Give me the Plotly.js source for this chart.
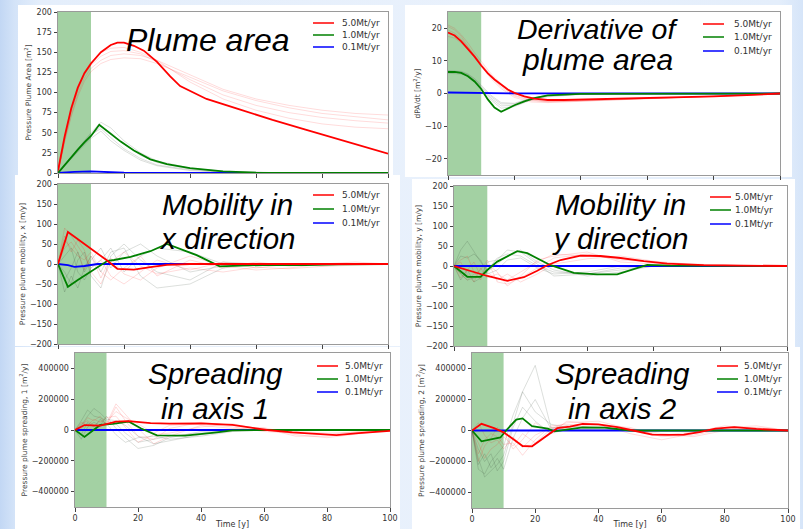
<!DOCTYPE html>
<html>
<head>
<meta charset="utf-8">
<script src="https://cdn.plot.ly/plotly-3.0.1.min.js"></script>
<style>
  html, body { margin: 0; padding: 0; }
  body {
    width: 803px; height: 529px; overflow: hidden;
    background: linear-gradient(90deg, #c2d7f4 0px, #d3e3f8 14px, #e4eefb 40px, #e9f1fc 60%, #e4eefb 97%, #d6e5f9 100%);
  }
  #chart { width: 803px; height: 529px; }
</style>
</head>
<body>
<div id="chart"></div>
<script>
// ---------------- data ----------------
const rateLabels = ['5.0Mt/yr', '1.0Mt/yr', '0.1Mt/yr'];
const injectionEnd = 10;           // end of injection period [y]
const timeTicks = [0, 20, 40, 60, 80, 100];

// common time grid of the ensemble realisations
const tEns = [0, 2, 4, 6, 8, 10, 13, 16, 20, 25, 30, 40, 50, 60, 70, 80, 90, 100];

// --- pressure plume area [m2]
const areaTicks = [0, 25, 50, 75, 100, 125, 150, 175, 200];
const areaRedT = [0, 2, 4, 6, 8, 10, 13, 16, 18, 20, 23, 26, 30, 34, 37, 45, 55, 65, 75, 85, 95, 100];
const areaRed = [3, 45, 80, 106, 124, 136, 150, 159, 162, 162, 158, 152, 138, 120, 108, 92, 79, 66, 54, 42, 30, 24];
const areaGreenT = [0, 2, 4, 6, 8, 10, 12.5, 15, 19, 23, 28, 33, 40, 50, 60, 100];
const areaGreen = [0, 10, 20, 29, 38, 46, 60, 52, 39, 28, 17, 11, 6, 2, 0.5, 0];
const areaBlueT = [0, 5, 10, 15, 20, 100];
const areaBlue = [0, 1.5, 2, 1, 0.3, 0];
const areaRedEns1 = [0, 40, 72, 98, 118, 130, 140, 146, 148, 146, 140, 122, 104, 92, 84, 78, 74, 72];
const areaRedEns2 = [0, 42, 76, 102, 122, 134, 145, 151, 152, 148, 138, 116, 97, 84, 75, 69, 65, 62];
const areaRedEns3 = [0, 38, 70, 95, 114, 126, 136, 141, 143, 142, 136, 119, 102, 90, 81, 74, 70, 66];
const areaRedEns4 = [0, 44, 78, 104, 125, 138, 150, 155, 156, 150, 140, 113, 92, 78, 68, 61, 57, 55];
const areaGreyEns1 = [0, 9, 19, 28, 37, 46, 58, 50, 36, 22, 13, 5, 2, 1, 0, 0, 0, 0];
const areaGreyEns2 = [0, 10, 21, 31, 41, 50, 63, 56, 40, 25, 15, 6, 2, 1, 0, 0, 0, 0];
const areaGreyEns3 = [0, 9, 18, 27, 35, 43, 52, 40, 28, 16, 9, 3, 1, 0, 0, 0, 0, 0];
const areaGreyEns4 = [0, 10, 20, 30, 39, 48, 55, 44, 30, 18, 10, 4, 1, 0, 0, 0, 0, 0];

// --- derivative of plume area [m2/y]
const dAreaTicks = [-20, -10, 0, 10, 20];
const dAreaRedT = [0, 2, 4, 6, 8, 10, 12, 14, 16, 18, 20, 23, 26, 30, 35, 40, 50, 60, 70, 80, 90, 100];
const dAreaRed = [18.7, 17.8, 16, 13.8, 11.3, 8.6, 6.2, 4.3, 2.6, 1.2, 0.2, -0.9, -1.6, -2, -2, -1.9, -1.7, -1.5, -1.2, -0.9, -0.5, 0];
const dAreaGreenT = [0, 2, 4, 6, 8, 10, 12, 14, 16, 18, 20, 23, 26, 30, 35, 40, 100];
const dAreaGreen = [6.6, 6.6, 6.3, 5.3, 3.7, 1.4, -1.8, -4.3, -5.6, -4.6, -3.6, -2.4, -1.4, -0.6, -0.3, -0.1, 0];
const dAreaBlueT = [0, 10, 20, 100];
const dAreaBlue = [0.3, 0.2, 0.05, 0];
const dAreaRedEns1 = [20.5, 19.5, 17.5, 14.5, 11.5, 8.5, 4.5, 1.5, -1.2, -2.6, -2.8, -2.4, -2, -1.7, -1.4, -1, -0.6, 0];
const dAreaRedEns2 = [19.5, 18.5, 16.8, 14.2, 11.8, 9.2, 5.5, 2.5, -0.5, -2, -2.5, -2.2, -1.9, -1.6, -1.3, -0.9, -0.5, 0];
const dAreaRedEns3 = [17.5, 17, 15.5, 13.5, 11, 8.5, 5, 2, -0.8, -2.2, -2.6, -2.3, -2, -1.6, -1.3, -0.9, -0.5, 0];
const dAreaRedEns4 = [21, 20, 18, 15.5, 12.5, 9.8, 6, 3, 0, -1.8, -2.4, -2.2, -1.8, -1.5, -1.2, -0.9, -0.5, 0];
const dAreaGreyEns1 = [6.8, 6.8, 6.5, 5.8, 4.2, 2, -1.5, -3.8, -3.6, -1.8, -0.8, -0.2, 0, 0, 0, 0, 0, 0];
const dAreaGreyEns2 = [6.2, 6.2, 6, 5.4, 4, 2.2, -1, -3.2, -3.2, -1.5, -0.6, -0.2, 0, 0, 0, 0, 0, 0];
const dAreaGreyEns3 = [7, 7, 6.8, 6, 4.6, 2.6, -0.6, -2.8, -3, -1.4, -0.6, -0.1, 0, 0, 0, 0, 0, 0];
const dAreaGreyEns4 = [6.5, 6.5, 6.2, 5.5, 3.8, 1.6, -2, -4.5, -4, -2, -1, -0.3, 0, 0, 0, 0, 0, 0];

// --- mobility in x [m/y]
const mobTicks = [-200, -150, -100, -50, 0, 50, 100, 150, 200];
const mobXRedT = [0, 3, 5, 8, 12, 15, 18, 23, 28, 33, 40, 100];
const mobXRed = [0, 80, 68, 50, 28, 8, -12, -14, -8, -2, 0, 0];
const mobXGreenT = [0, 3, 6, 10, 15, 17, 22, 28, 33, 42, 49, 55, 65, 75, 85, 100];
const mobXGreen = [0, -57, -40, -18, 8, 10, 18, 32, 50, 22, -6, -4, -2, -3, -1, 0];
const mobXBlueT = [0, 3, 5, 8, 12, 100];
const mobXBlue = [0, -3, -7, -5, 0, 0];
const mobXRedEns1 = [0, 60, 40, 20, 10, 30, -20, -40, -10, 20, -30, 10, -10, 5, -5, 0, 0, 0];
const mobXRedEns2 = [0, 90, 70, 45, 20, -10, 10, -30, -50, -20, 10, -15, 5, -10, 0, -5, 0, 0];
const mobXRedEns3 = [0, 40, 55, 30, -15, 20, -35, 15, -25, -40, -10, 20, -5, -15, -10, 0, 5, 0];
const mobXRedEns4 = [0, 70, 30, 60, 35, -20, -50, 5, 30, -5, -25, -10, -20, -8, -12, -6, -3, 0];
const mobXGreyEns1 = [0, -40, -10, 30, -20, 10, 40, -10, 30, 50, 20, -20, -5, 0, 0, 0, 0, 0];
const mobXGreyEns2 = [0, -70, -30, -60, -10, 20, -20, 30, 40, -30, -60, -50, -10, 0, 0, 0, 0, 0];
const mobXGreyEns3 = [0, 20, 40, -20, -40, -10, 10, 40, -20, 20, 40, 30, 0, 0, 0, 0, 0, 0];
const mobXGreyEns4 = [0, -20, -50, 10, 30, -30, -60, 20, 50, 10, -20, -40, 5, 0, 0, 0, 0, 0];

// --- mobility in y [m/y]
const mobYRedT = [0, 5, 10, 16, 21, 25, 28, 32, 38, 44, 50, 57, 64, 75, 100];
const mobYRed = [0, -12, -25, -37, -28, -12, 2, 15, 26, 25, 20, 12, 6, 2, 0];
const mobYGreenT = [0, 4, 8, 10, 13, 19, 22, 29, 36, 43, 49, 58, 65, 100];
const mobYGreen = [0, -27, -27, -10, 11, 37, 32, 2, -17, -21, -21, 3, 1, 0];
const mobYBlueT = [0, 100];
const mobYBlue = [0, 0];
const mobYRedEns1 = [0, -20, -35, -20, -10, 15, -40, -45, -30, -5, 20, 30, 15, 10, 5, 3, 0, 0];
const mobYRedEns2 = [0, 10, -20, -40, -5, -30, -20, -35, -15, 10, 30, 25, 20, 8, 4, 0, 0, 0];
const mobYRedEns3 = [0, -30, -10, 10, -25, -15, -35, -20, -40, -20, 5, 18, 25, 12, 5, 2, 0, 0];
const mobYRedEns4 = [0, 15, 25, -15, -35, 5, -15, -50, -25, 15, 25, 35, 10, 5, 0, 0, 0, 0];
const mobYGreyEns1 = [0, 40, 62, 35, 10, -10, 20, 30, 25, 0, -15, -20, -10, 0, 0, 0, 0, 0];
const mobYGreyEns2 = [0, -20, -35, -30, -25, -15, 5, 25, 40, 10, -10, -25, -15, 0, 0, 0, 0, 0];
const mobYGreyEns3 = [0, 25, 20, 30, 15, -20, -10, 15, 20, -5, -20, -15, 0, 0, 0, 0, 0, 0];
const mobYGreyEns4 = [0, -35, -10, -40, -30, 10, 15, 40, 35, 5, -25, -20, -5, 0, 0, 0, 0, 0];

// --- spreading along principal axes [m2/y]
const spreadTicks = [-400000, -200000, 0, 200000, 400000];
const spr1RedT = [0, 3, 8, 13, 17, 24, 30, 40, 50, 55, 61, 69, 76, 83, 90, 100];
const spr1Red = [0, 32000, 28000, 55000, 58000, 45000, 42000, 43000, 33000, 20000, 0, -15000, -25000, -33000, -20000, -6000];
const spr1GreenT = [0, 3, 8, 12, 17, 21, 26, 35, 45, 50, 60, 100];
const spr1Green = [0, -45000, 33000, 40000, 55000, 10000, -35000, -37000, -15000, -3000, 0, 0];
const spr1BlueT = [0, 100];
const spr1Blue = [0, 0];
const spr1RedEns1 = [0, 40000, 60000, 30000, 20000, 50000, 120000, 80000, 40000, -20000, 30000, 40000, 20000, -10000, -20000, -30000, -10000, 0];
const spr1RedEns2 = [0, 20000, 80000, 60000, 90000, 30000, 150000, 60000, -40000, -60000, 10000, 50000, 30000, 10000, -40000, -40000, -20000, 0];
const spr1RedEns3 = [0, 50000, 30000, 70000, 50000, 80000, 90000, 20000, -80000, -30000, -20000, 20000, 40000, 0, -10000, -20000, -15000, 0];
const spr1RedEns4 = [0, 10000, 40000, 20000, 60000, 40000, 170000, 100000, 10000, -90000, -40000, 30000, 10000, 15000, -30000, -50000, -25000, 0];
const spr1GreyEns1 = [0, 60000, 130000, 90000, 80000, 60000, 40000, -20000, -80000, -60000, -40000, -20000, 0, 0, 0, 0, 0, 0];
const spr1GreyEns2 = [0, -60000, 20000, 50000, 30000, 90000, 10000, -50000, -120000, -100000, -50000, -10000, 0, 0, 0, 0, 0, 0];
const spr1GreyEns3 = [0, 30000, 90000, 140000, 110000, 70000, 60000, 30000, -40000, -90000, -70000, -30000, -5000, 0, 0, 0, 0, 0];
const spr1GreyEns4 = [0, -30000, 50000, 20000, 70000, 40000, -30000, -80000, -50000, -40000, -60000, -40000, -10000, 0, 0, 0, 0, 0];

const spr2RedT = [0, 3, 7, 10, 13, 16, 19, 23, 27, 31, 35, 40, 46, 51, 57, 62, 67, 72, 77, 83, 90, 100];
const spr2Red = [0, 43000, 15000, -12000, -55000, -100000, -102000, -45000, 15000, 25000, 43000, 40000, 22000, 0, -26000, -28000, -26000, -10000, 12000, 22000, 10000, 0];
const spr2GreenT = [0, 3, 9, 11, 14, 16, 19, 24, 26, 30, 35, 42, 50, 100];
const spr2Green = [0, -70000, -45000, 5000, 70000, 78000, 28000, 12000, -5000, 5000, 20000, 18000, 0, 0];
const spr2BlueT = [0, 100];
const spr2Blue = [0, 0];
const spr2RedEns1 = [0, -150000, -60000, -20000, -40000, -90000, -80000, -160000, -60000, 30000, 40000, 30000, 20000, -40000, -30000, 10000, 20000, 0];
const spr2RedEns2 = [0, -200000, -100000, -50000, 20000, -10000, -120000, -60000, 50000, -20000, 60000, 40000, -20000, -60000, -20000, 20000, 30000, 0];
const spr2RedEns3 = [0, 50000, -30000, -80000, -60000, -120000, -40000, -110000, -30000, 20000, 30000, 20000, 10000, -20000, -40000, 0, 15000, 0];
const spr2RedEns4 = [0, -80000, -180000, -120000, -90000, -40000, -100000, -20000, -80000, 10000, 50000, 60000, 10000, -30000, -10000, 30000, 10000, 0];
const spr2GreyEns1 = [0, -250000, -280000, -200000, -150000, -100000, 100000, 250000, 420000, 20000, 10000, 0, 0, 0, 0, 0, 0, 0];
const spr2GreyEns2 = [0, -180000, -300000, -260000, -220000, -160000, 50000, 250000, 120000, 40000, 20000, 10000, 0, 0, 0, 0, 0, 0];
const spr2GreyEns3 = [0, -120000, -200000, -150000, -260000, -200000, 20000, 150000, 60000, -20000, 10000, 5000, 0, 0, 0, 0, 0, 0];
const spr2GreyEns4 = [0, -220000, -150000, -240000, -180000, -250000, -50000, 80000, 200000, 10000, 30000, 15000, 0, 0, 0, 0, 0, 0];

// ---------------- panels ----------------
const W = 803, H = 529;
const fx = v => v / W;
const fy = v => 1 - v / H;

const panels = [
  { title: ['Plume area'], tc: 208, tY: [40], tSize: [32],
    ylabel: 'Pressure Plume Area [m<sup>2</sup>]', yr: [0, 200], yt: areaTicks,
    box: [18, 393, 5, 176], plot: [58, 388, 12, 173], leg: [313, 340, [23, 35, 47]],
    red: [areaRedT, areaRed], green: [areaGreenT, areaGreen], blue: [areaBlueT, areaBlue],
    redEns: [areaRedEns1, areaRedEns2, areaRedEns3, areaRedEns4],
    greyEns: [areaGreyEns1, areaGreyEns2, areaGreyEns3, areaGreyEns4] },
  { title: ['Derivative of', 'plume area'], tc: 597, tY: [29, 60], tSize: [28.5, 30],
    ylabel: 'dPA/dt [m<sup>2</sup>/y]', yr: [-25, 25], yt: dAreaTicks,
    box: [405, 792, 5, 177], plot: [448, 780, 12, 175], leg: [703, 732, [24, 37, 51]],
    red: [dAreaRedT, dAreaRed], green: [dAreaGreenT, dAreaGreen], blue: [dAreaBlueT, dAreaBlue],
    redEns: [dAreaRedEns1, dAreaRedEns2, dAreaRedEns3, dAreaRedEns4],
    greyEns: [dAreaGreyEns1, dAreaGreyEns2, dAreaGreyEns3, dAreaGreyEns4] },
  { title: ['Mobility in', 'x direction'], tc: 227, tY: [205, 238], tSize: [29.5, 29.5],
    ylabel: 'Pressure plume mobility, x [m/y]', yr: [-200, 200], yt: mobTicks,
    box: [15, 400, 175, 346], plot: [58, 388, 184, 344], leg: [313, 340, [195, 209, 223]],
    red: [mobXRedT, mobXRed], green: [mobXGreenT, mobXGreen], blue: [mobXBlueT, mobXBlue],
    redEns: [mobXRedEns1, mobXRedEns2, mobXRedEns3, mobXRedEns4],
    greyEns: [mobXGreyEns1, mobXGreyEns2, mobXGreyEns3, mobXGreyEns4] },
  { title: ['Mobility in', 'y direction'], tc: 620, tY: [205, 238], tSize: [29.5, 29.5],
    ylabel: 'Pressure plume mobility, y [m/y]', yr: [-200, 200], yt: mobTicks,
    box: [412, 795, 179, 348], plot: [454, 787, 186, 346], leg: [710, 733, [197, 210, 224]],
    red: [mobYRedT, mobYRed], green: [mobYGreenT, mobYGreen], blue: [mobYBlueT, mobYBlue],
    redEns: [mobYRedEns1, mobYRedEns2, mobYRedEns3, mobYRedEns4],
    greyEns: [mobYGreyEns1, mobYGreyEns2, mobYGreyEns3, mobYGreyEns4] },
  { title: ['Spreading', 'in axis 1'], tc: 215, tY: [373, 408], tSize: [29.5, 29.5],
    ylabel: 'Pressure plume spreading, 1 [m<sup>2</sup>/y]', yr: [-500000, 500000], yt: spreadTicks,
    box: [15, 400, 347, 529], plot: [75, 390, 353, 507], leg: [317, 343, [366, 379, 392]],
    red: [spr1RedT, spr1Red], green: [spr1GreenT, spr1Green], blue: [spr1BlueT, spr1Blue],
    redEns: [spr1RedEns1, spr1RedEns2, spr1RedEns3, spr1RedEns4],
    greyEns: [spr1GreyEns1, spr1GreyEns2, spr1GreyEns3, spr1GreyEns4], xlab: true },
  { title: ['Spreading', 'in axis 2'], tc: 622, tY: [373, 408], tSize: [29.5, 29.5],
    ylabel: 'Pressure plume spreading, 2 [m<sup>2</sup>/y]', yr: [-500000, 500000], yt: spreadTicks,
    box: [412, 800, 347, 529], plot: [472, 788, 353, 508], leg: [717, 742, [366, 379, 392]],
    red: [spr2RedT, spr2Red], green: [spr2GreenT, spr2Green], blue: [spr2BlueT, spr2Blue],
    redEns: [spr2RedEns1, spr2RedEns2, spr2RedEns3, spr2RedEns4],
    greyEns: [spr2GreyEns1, spr2GreyEns2, spr2GreyEns3, spr2GreyEns4], xlab: true }
];

const seriesColors = ['#ff0000', '#008000', '#0000ff'];
const tickFont = { family: 'DejaVu Sans', size: 8, color: '#333' };

const traces = [];
const shapes = [];
const annotations = [];
const layout = {
  width: W, height: H,
  margin: { l: 0, r: 0, t: 0, b: 0 },
  paper_bgcolor: 'rgba(0,0,0,0)',
  plot_bgcolor: '#ffffff',
  showlegend: false
};

panels.forEach((p, i) => {
  const n = i + 1;
  const xa = 'x' + (n === 1 ? '' : n), ya = 'y' + (n === 1 ? '' : n);
  const xKey = 'xaxis' + (n === 1 ? '' : n), yKey = 'yaxis' + (n === 1 ? '' : n);

  // white panel card
  shapes.push({ type: 'rect', xref: 'paper', yref: 'paper', layer: 'below',
    x0: fx(p.box[0]), x1: fx(p.box[1]), y0: fy(p.box[3]), y1: fy(p.box[2]),
    fillcolor: '#ffffff', line: { width: 0 } });

  // injection period shading
  shapes.push({ type: 'rect', xref: xa, yref: ya + ' domain', layer: 'below',
    x0: 0, x1: injectionEnd, y0: 0, y1: 1,
    fillcolor: 'rgba(0,128,0,0.36)', line: { width: 0 } });

  const xAxis = {
    domain: [fx(p.plot[0]), fx(p.plot[1])], anchor: ya,
    range: [0, 100], tickvals: timeTicks, ticks: 'outside', ticklen: 3.5, tickcolor: '#444',
    showticklabels: !!p.xlab, tickfont: tickFont,
    showline: true, mirror: true, linecolor: '#9a9a9a', linewidth: 1,
    showgrid: false, zeroline: false, fixedrange: true
  };
  if (p.xlab) {
    xAxis.title = { text: 'Time [y]', font: { family: 'DejaVu Sans', size: 8, color: '#333' }, standoff: 2 };
  }
  layout[xKey] = xAxis;
  layout[yKey] = {
    domain: [fy(p.plot[3]), fy(p.plot[2])], anchor: xa,
    range: p.yr, tickvals: p.yt, tickformat: 'd', ticks: 'outside', ticklen: 3.5, tickcolor: '#444',
    tickfont: tickFont,
    showline: true, mirror: true, linecolor: '#9a9a9a', linewidth: 1,
    showgrid: false, zeroline: false, fixedrange: true,
    title: { text: p.ylabel, font: { family: 'DejaVu Sans', size: 7.5, color: '#444' }, standoff: 3 }
  };

  // ensemble realisations
  p.redEns.forEach(v => traces.push({ type: 'scatter', mode: 'lines', x: tEns, y: v,
    xaxis: xa, yaxis: ya, line: { color: 'rgba(255,0,0,0.16)', width: 0.9 }, hoverinfo: 'skip' }));
  p.greyEns.forEach(v => traces.push({ type: 'scatter', mode: 'lines', x: tEns, y: v,
    xaxis: xa, yaxis: ya, line: { color: 'rgba(50,70,50,0.22)', width: 0.8 }, hoverinfo: 'skip' }));

  // mean responses for each injection rate (drawn blue, green, red)
  [[p.blue, 2], [p.green, 1], [p.red, 0]].forEach(([s, k]) => traces.push({
    type: 'scatter', mode: 'lines', x: s[0], y: s[1], name: rateLabels[k],
    xaxis: xa, yaxis: ya, line: { color: seriesColors[k], width: 1.8 } }));

  // panel heading
  p.title.forEach((t, j) => annotations.push({
    xref: 'paper', yref: 'paper', x: fx(p.tc), y: fy(p.tY[j]),
    xanchor: 'center', yanchor: 'middle', showarrow: false, text: t,
    font: { family: 'Liberation Sans, Arial, sans-serif', size: p.tSize[j], style: 'italic', color: '#000' } }));

  // key
  rateLabels.forEach((lab, k) => {
    const yy = p.leg[2][k];
    shapes.push({ type: 'line', xref: 'paper', yref: 'paper',
      x0: fx(p.leg[0]), x1: fx(p.leg[0] + 21), y0: fy(yy), y1: fy(yy),
      line: { color: seriesColors[k], width: 1.5 } });
    annotations.push({ xref: 'paper', yref: 'paper', x: fx(p.leg[1]), y: fy(yy),
      xanchor: 'left', yanchor: 'middle', showarrow: false, text: lab,
      font: { family: 'DejaVu Sans', size: 9, color: '#333' } });
  });
});

layout.shapes = shapes;
layout.annotations = annotations;

Plotly.newPlot('chart', traces, layout, { displayModeBar: false, staticPlot: true });
</script>
</body>
</html>
